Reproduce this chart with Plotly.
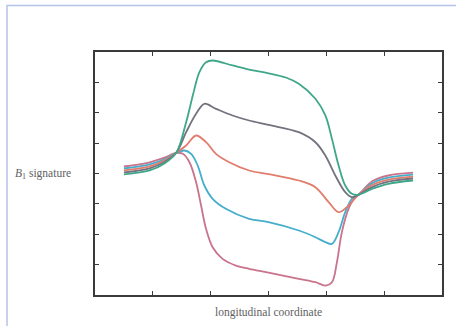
import plotly.graph_objects as go

# Data (x: longitudinal coordinate, y: B1 signature)
green_x = [0.5, 0.945, 1.2, 1.404, 1.576, 1.691, 1.805, 1.920, 2.034, 2.378, 2.665, 3.0, 3.3, 3.524, 3.811, 3.983, 4.097, 4.212, 4.327, 4.441, 4.556, 4.8, 5.07, 5.5]
green_y = [-0.03, 0.10, 0.33, 0.68, 1.69, 2.568, 3.336, 3.665, 3.72, 3.556, 3.42, 3.30, 3.16, 2.953, 2.46, 1.91, 1.14, 0.263, -0.395, -0.669, -0.70, -0.50, -0.34, -0.23]

gray_x = [0.5, 0.945, 1.2, 1.404, 1.576, 1.748, 1.891, 2.092, 2.378, 2.665, 3.0, 3.524, 3.811, 3.983, 4.155, 4.327, 4.441, 4.556, 4.8, 5.07, 5.5]
gray_y = [0.035, 0.17, 0.38, 0.68, 1.36, 1.966, 2.295, 2.13, 1.91, 1.745, 1.6, 1.36, 1.03, 0.593, -0.066, -0.615, -0.78, -0.70, -0.44, -0.27, -0.165]

red_x = [0.5, 0.945, 1.2, 1.404, 1.576, 1.748, 1.920, 2.092, 2.321, 2.665, 3.0, 3.524, 3.811, 4.040, 4.212, 4.355, 4.556, 4.8, 5.07, 5.5]
red_y = [0.10, 0.235, 0.43, 0.68, 0.922, 1.251, 1.031, 0.648, 0.372, 0.099, -0.02, -0.23, -0.45, -0.944, -1.273, -1.108, -0.70, -0.37, -0.20, -0.10]

blue_x = [0.5, 0.945, 1.2, 1.404, 1.547, 1.662, 1.776, 1.891, 2.034, 2.263, 2.665, 3.0, 3.524, 3.811, 3.983, 4.097, 4.212, 4.327, 4.441, 4.556, 4.8, 5.07, 5.5]
blue_y = [0.165, 0.30, 0.47, 0.68, 0.757, 0.648, 0.263, -0.395, -0.833, -1.162, -1.492, -1.60, -1.877, -2.097, -2.26, -2.316, -1.93, -1.273, -0.833, -0.70, -0.31, -0.135, -0.035]

pink_x = [0.5, 0.945, 1.2, 1.404, 1.518, 1.633, 1.748, 1.834, 1.920, 2.034, 2.206, 2.436, 2.665, 3.0, 3.524, 3.811, 3.983, 4.097, 4.183, 4.269, 4.384, 4.499, 4.556, 4.8, 5.07, 5.5]
pink_y = [0.23, 0.37, 0.52, 0.68, 0.648, 0.372, -0.286, -1.054, -1.822, -2.427, -2.81, -3.03, -3.14, -3.26, -3.469, -3.58, -3.69, -3.58, -2.92, -1.93, -1.163, -0.78, -0.70, -0.25, -0.066, 0.03]

x_ticks = [1, 2, 3, 4, 5]
y_ticks = [-3, -2, -1, 0, 1, 2, 3]

series = [
    (pink_x, pink_y, "#c9738c"),
    (blue_x, blue_y, "#45aecb"),
    (red_x, red_y, "#e27c6c"),
    (gray_x, gray_y, "#73737f"),
    (green_x, green_y, "#3fa68a"),
]

fig = go.Figure()
for xs, ys, col in series:
    fig.add_trace(go.Scatter(x=xs, y=ys, mode="lines",
                             line=dict(color=col, width=1.8, shape="spline", smoothing=1.0),
                             hoverinfo="skip", showlegend=False))

axis_common = dict(showline=True, linecolor="#3a3a3a", linewidth=1.6, mirror="ticks",
                   ticks="inside", ticklen=4, tickwidth=1.2, tickcolor="#3a3a3a",
                   showticklabels=False, showgrid=False, zeroline=False)

fig.update_layout(
    width=456, height=326,
    margin=dict(l=95, r=12, t=52, b=31),
    paper_bgcolor="white", plot_bgcolor="white",
    xaxis=dict(range=[0, 6], tickvals=x_ticks, **axis_common),
    yaxis=dict(range=[-4, 4], tickvals=y_ticks, **axis_common),
    font=dict(family="Liberation Serif, DejaVu Serif, serif", size=11.5, color="#606060"),
)

# light blue page border
fig.add_shape(type="rect", xref="paper", yref="paper",
              x0=-0.2536, x1=1.2, y0=-0.3, y1=1.1914,
              line=dict(color="#b5c3ea", width=1.5), layer="below")

fig.add_annotation(text="<i>B</i><sub>1</sub> signature", xref="paper", yref="paper",
                   x=-0.063, y=0.5, xanchor="right", yanchor="middle", showarrow=False,
                   font=dict(size=11.5, color="#606060"))
fig.add_annotation(text="longitudinal coordinate", xref="paper", yref="paper",
                   x=0.5, y=-0.074, xanchor="center", yanchor="middle", showarrow=False,
                   font=dict(size=11.5, color="#606060"))

fig.write_html("out.html", config={"displayModeBar": False},
               post_script="document.body.style.margin='0';")
